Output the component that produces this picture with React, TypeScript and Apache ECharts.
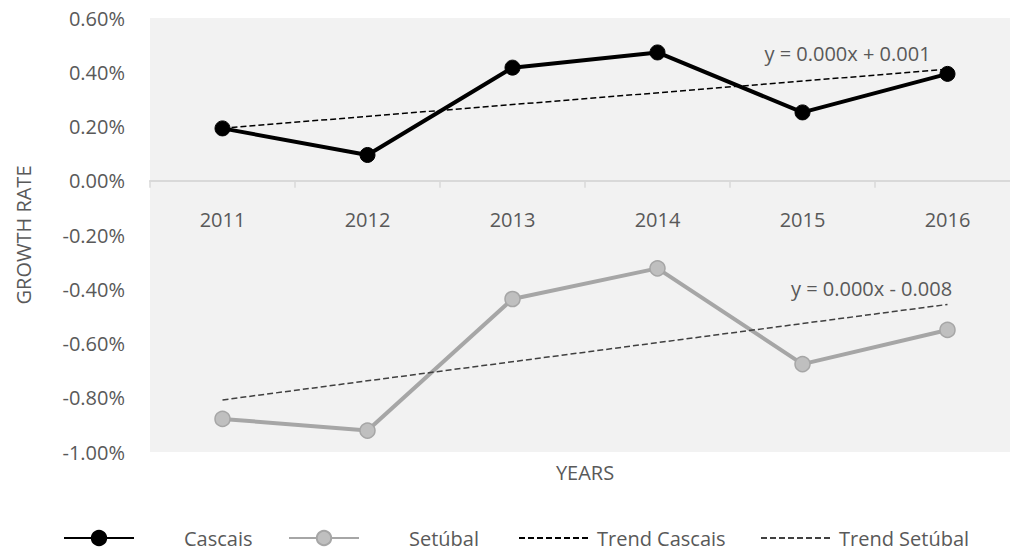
import React, { useEffect, useRef } from "react";
import * as echarts from "echarts";

const years = ["2011", "2012", "2013", "2014", "2015", "2016"];
const cascais = [0.193, 0.095, 0.417, 0.473, 0.252, 0.394];
const setubal = [-0.878, -0.921, -0.436, -0.323, -0.676, -0.55];
const trendCascais = [0.194, null, null, null, null, 0.411];
const trendSetubal = [-0.808, null, null, null, null, -0.456];
const eqCascais = "y = 0.000x + 0.001";
const eqSetubal = "y = 0.000x - 0.008";
const yMin = -1;
const yMax = 0.6;

const FONT = "Open Sans";
const TXT = "#595959";

export default function App() {
  const ref = useRef<HTMLDivElement>(null);
  useEffect(() => {
    document.body.style.margin = "0";
    const chart = echarts.init(ref.current!, null, { renderer: "svg" });
    const gridTop = 18;
    const gridBottomPx = 452;
    const plotH = gridBottomPx - gridTop;
    // distance from grid bottom up to the zero line
    const zeroOffset = -((0 - yMin) / (yMax - yMin)) * plotH;
    const lastLabel = (text: string, offset: number[]) => ({
      show: true,
      formatter: text,
      position: "top",
      offset,
      color: TXT,
      fontFamily: FONT,
      fontSize: 20,
    });
    const mkTrend = (arr: (number | null)[], text: string, offset: number[]) =>
      arr.map((v, i) =>
        i === arr.length - 1 ? { value: v, label: lastLabel(text, offset) } : v
      );
    const legendBase = {
      orient: "horizontal",
      top: 528,
      padding: 0,
      itemWidth: 70,
      itemHeight: 18,
      textStyle: { color: TXT, fontFamily: FONT, fontSize: 20 },
    };
    const hiddenMark = { color: "rgba(0,0,0,0)", borderWidth: 0 };
    chart.setOption({
      animation: false,
      textStyle: { fontFamily: FONT },
      grid: {
        left: 150,
        top: gridTop,
        right: -10,
        bottom: 550 - gridBottomPx,
        show: true,
        backgroundColor: "#f2f2f2",
        borderWidth: 0,
        containLabel: false,
        outerBoundsMode: "none",
      },
      graphic: [
        {
          type: "text",
          x: 585,
          y: 472,
          style: {
            text: "YEARS",
            fill: TXT,
            font: `20px "${FONT}"`,
            textAlign: "center",
            textVerticalAlign: "middle",
          },
        },
      ],
      legend: [
        { ...legendBase, left: 63, data: ["Cascais"], textStyle: { ...legendBase.textStyle, padding: [0, 0, 0, 45] } },
        { ...legendBase, left: 288, data: ["Setúbal"], textStyle: { ...legendBase.textStyle, padding: [0, 0, 0, 45] } },
        { ...legendBase, left: 518, data: [{ name: "Trend Cascais", itemStyle: hiddenMark }], textStyle: { ...legendBase.textStyle, padding: [0, 0, 0, 3] } },
        { ...legendBase, left: 760, data: [{ name: "Trend Setúbal", itemStyle: hiddenMark }], textStyle: { ...legendBase.textStyle, padding: [0, 0, 0, 3] } },
      ],
      xAxis: {
        type: "category",
        data: years,
        boundaryGap: true,
        position: "bottom",
        offset: zeroOffset,
        axisLine: { onZero: false, lineStyle: { color: "#d9d9d9", width: 2 } },
        axisTick: { show: true, length: 7, lineStyle: { color: "#d9d9d9", width: 1.5 } },
        axisLabel: { color: TXT, fontFamily: FONT, fontSize: 20, margin: 29 },
      },
      yAxis: {
        type: "value",
        min: yMin,
        max: yMax,
        interval: 0.2,
        name: "GROWTH RATE",
        nameLocation: "middle",
        nameGap: 117,
        nameRotate: 90,
        nameTextStyle: { color: TXT, fontFamily: FONT, fontSize: 20 },
        axisLine: { show: false },
        axisTick: { show: false },
        splitLine: { show: false },
        axisLabel: {
          color: TXT,
          fontFamily: FONT,
          fontSize: 20,
          margin: 25,
          formatter: (v: number) => v.toFixed(2) + "%",
        },
      },
      series: [
        {
          name: "Cascais",
          type: "line",
          data: cascais,
          symbol: "circle",
          symbolSize: 15,
          lineStyle: { color: "#000000", width: 4 },
          itemStyle: { color: "#000000", borderColor: "#000000", borderWidth: 1 },
          z: 3,
        },
        {
          name: "Setúbal",
          type: "line",
          data: setubal,
          symbol: "circle",
          symbolSize: 15,
          lineStyle: { color: "#a6a6a6", width: 4 },
          itemStyle: { color: "#bfbfbf", borderColor: "#a6a6a6", borderWidth: 1.5 },
          z: 3,
        },
        {
          name: "Trend Cascais",
          type: "line",
          data: mkTrend(trendCascais, eqCascais, [-100, 0]),
          connectNulls: true,
          symbol: "circle",
          symbolSize: 1,
          showSymbol: true,
          lineStyle: { color: "#000000", width: 1.5, type: [6, 3] },
          itemStyle: { color: "rgba(0,0,0,0)" },
          z: 4,
        },
        {
          name: "Trend Setúbal",
          type: "line",
          data: mkTrend(trendSetubal, eqSetubal, [-76, 0]),
          connectNulls: true,
          symbol: "circle",
          symbolSize: 1,
          showSymbol: true,
          lineStyle: { color: "#404040", width: 1.5, type: [6, 3] },
          itemStyle: { color: "rgba(0,0,0,0)" },
          z: 4,
        },
      ],
    });
    return () => chart.dispose();
  }, []);
  return <div ref={ref} style={{ width: 1010, height: 550 }} />;
}
